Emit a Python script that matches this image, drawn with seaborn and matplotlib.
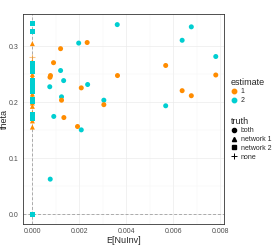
import pandas as pd
import matplotlib
matplotlib.use('Agg')
import matplotlib.pyplot as plt
from matplotlib.lines import Line2D
import seaborn as sns

# off-zero points (truth = both)
both_x = [0.00361, 0.00197, 0.00233, 0.00120, 0.00090, 0.00120, 0.00077, 0.00075,
          0.00133, 0.00074, 0.00235, 0.00208, 0.00362, 0.00124, 0.00124, 0.00304,
          0.00304, 0.00091, 0.00134, 0.00192, 0.00208, 0.00076, 0.00676, 0.00637,
          0.00780, 0.00567, 0.00780, 0.00637, 0.00676, 0.00567, 0.0, 0.0]
both_y = [0.339, 0.306, 0.307, 0.296, 0.271, 0.257, 0.248, 0.245,
          0.239, 0.228, 0.232, 0.226, 0.248, 0.210, 0.204, 0.204,
          0.196, 0.175, 0.173, 0.157, 0.151, 0.063, 0.335, 0.311,
          0.282, 0.266, 0.249, 0.221, 0.212, 0.194, 0.0, 0.0]
both_est = ['2', '2', '1', '1', '1', '2', '1', '1',
            '2', '2', '2', '1', '1', '2', '1', '2',
            '1', '2', '1', '1', '2', '2', '2', '2',
            '2', '1', '1', '1', '1', '2', '1', '2']

# x = 0 points
net1_y = [0.305, 0.273, 0.264, 0.250, 0.245, 0.236, 0.228, 0.223, 0.215,
          0.210, 0.199, 0.193, 0.181, 0.167, 0.156]
net2_y = [0.341, 0.326, 0.270, 0.267, 0.260, 0.255, 0.240, 0.236, 0.226,
          0.220, 0.205, 0.201, 0.178, 0.172, 0.0]
none_y = [0.282]

orange = '#FF8C00'
cyan = '#00CED1'
palette = {'1': orange, '2': cyan}

df = pd.concat([
    pd.DataFrame({'x': both_x, 'theta': both_y, 'estimate': both_est, 'truth': 'both'}),
    pd.DataFrame({'x': 0.0, 'theta': net1_y, 'estimate': '1', 'truth': 'network 1'}),
    pd.DataFrame({'x': 0.0, 'theta': net2_y, 'estimate': '2', 'truth': 'network 2'}),
    pd.DataFrame({'x': 0.0, 'theta': none_y, 'estimate': '1', 'truth': 'none'}),
])

sns.set_theme(style='whitegrid')
plt.rcParams['font.family'] = ['Liberation Sans', 'DejaVu Sans']

fig = plt.figure(figsize=(2.8, 2.45), dpi=100)
ax = fig.add_axes([0.082, 0.086, 0.718, 0.857])

ax.axvline(0, color='#aaaaaa', ls=(0, (3, 2)), lw=0.7, zorder=1)
ax.axhline(0, color='#aaaaaa', ls=(0, (3, 2)), lw=0.7, zorder=1)

markers = {'both': 'o', 'network 1': '^', 'network 2': 's'}
for t, m in markers.items():
    sub = df[df['truth'] == t]
    sns.scatterplot(data=sub, x='x', y='theta', hue='estimate', palette=palette,
                    marker=m, s=13, linewidth=0, legend=False, ax=ax, zorder=3)
sub = df[df['truth'] == 'none']
sns.scatterplot(data=sub, x='x', y='theta', hue='estimate', palette=palette,
                marker='+', s=25, linewidth=0.8, alpha=0.5, legend=False, ax=ax, zorder=3)

ax.set_xlim(-0.0004, 0.00815)
ax.set_ylim(-0.017, 0.358)
ax.set_xticks([0.0, 0.002, 0.004, 0.006, 0.008])
ax.set_xticklabels(['0.000', '0.002', '0.004', '0.006', '0.008'])
ax.set_yticks([0.0, 0.1, 0.2, 0.3])
ax.set_yticklabels(['0.0', '0.1', '0.2', '0.3'])
ax.set_xticks([0.001, 0.003, 0.005, 0.007], minor=True)
ax.set_yticks([0.05, 0.15, 0.25], minor=True)
ax.grid(True, which='major', color='#ebebeb', lw=0.5)
ax.grid(True, which='minor', color='#f5f5f5', lw=0.3)
ax.tick_params(axis='both', which='major', labelsize=5, colors='#4d4d4d',
               length=2, width=0.5, pad=1)
ax.tick_params(axis='both', which='minor', length=0)
for s in ax.spines.values():
    s.set_color('#333333')
    s.set_linewidth(0.6)
ax.set_xlabel('E[NuInv]', fontsize=6.5, labelpad=1)
ax.set_ylabel('theta', fontsize=6.5)
ax.yaxis.set_label_coords(-0.072, 0.5)

h_est = [Line2D([], [], marker='o', ls='', color=orange, markersize=3.2, label='1'),
         Line2D([], [], marker='o', ls='', color=cyan, markersize=3.2, label='2')]
leg1 = fig.legend(handles=h_est, title='estimate', loc='upper left',
                  bbox_to_anchor=(0.815, 0.695), frameon=False, fontsize=5,
                  title_fontsize=6.5, handlelength=0.8, handletextpad=0.6,
                  labelspacing=0.25, borderaxespad=0, alignment='left')
h_tr = [Line2D([], [], marker='o', ls='', color='black', markersize=3, label='both'),
        Line2D([], [], marker='^', ls='', color='black', markersize=3, label='network 1'),
        Line2D([], [], marker='s', ls='', color='black', markersize=3, label='network 2'),
        Line2D([], [], marker='+', ls='', color='black', markersize=4.5, mew=0.7, label='none')]
leg2 = fig.legend(handles=h_tr, title='truth', loc='upper left',
                  bbox_to_anchor=(0.815, 0.535), frameon=False, fontsize=5,
                  title_fontsize=6.5, handlelength=0.8, handletextpad=0.6,
                  labelspacing=0.25, borderaxespad=0, alignment='left')

fig.savefig('out.png', dpi=100)
